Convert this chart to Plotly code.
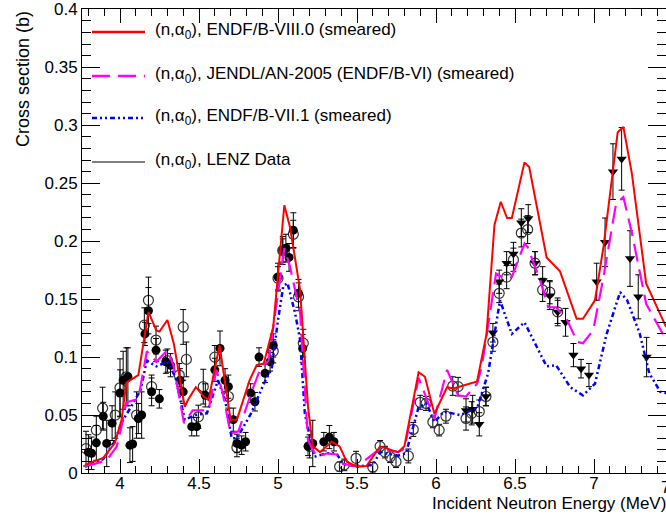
import plotly.graph_objects as go

# ---------------- data ----------------
red_x = [3.778, 3.894, 3.968, 4.01, 4.04, 4.105, 4.116, 4.18, 4.23, 4.25, 4.30, 4.34, 4.41, 4.43, 4.48, 4.53, 4.56,
         4.63, 4.65, 4.70, 4.74, 4.82, 4.865, 4.91, 4.97, 5.04, 5.076, 5.14, 5.19, 5.22, 5.266, 5.34, 5.39, 5.435,
         5.50, 5.56, 5.646, 5.76, 5.80, 5.89, 5.93, 5.99, 6.07, 6.11, 6.26, 6.32, 6.37, 6.41, 6.45, 6.48, 6.56, 6.59,
         6.70, 6.785, 6.89, 6.93, 7.006, 7.06, 7.15, 7.186, 7.24, 7.29, 7.33, 7.456]
red_y = [0.007, 0.013, 0.026, 0.046, 0.078, 0.083, 0.0845, 0.139, 0.123, 0.122, 0.132, 0.112, 0.057, 0.063, 0.074,
         0.066, 0.063, 0.110, 0.092, 0.046, 0.046, 0.080, 0.093, 0.0945, 0.126, 0.231, 0.212, 0.158, 0.057, 0.023,
         0.018, 0.027, 0.023, 0.0097, 0.0055, 0.006, 0.023, 0.018, 0.023, 0.087, 0.083, 0.051, 0.074, 0.073, 0.079,
         0.120, 0.214, 0.234, 0.220, 0.220, 0.268, 0.264, 0.186, 0.174, 0.133, 0.133, 0.149, 0.195, 0.294, 0.2985,
         0.258, 0.207, 0.1635, 0.126]

mag_x = [3.778, 3.916, 3.98, 4.01, 4.04, 4.116, 4.17, 4.23, 4.30, 4.34, 4.405, 4.46, 4.56, 4.61, 4.65, 4.70, 4.75,
         4.83, 4.886, 4.94, 5.04, 5.076, 5.14, 5.19, 5.245, 5.31, 5.37, 5.41, 5.50, 5.646, 5.76, 5.80, 5.89, 5.99,
         6.07, 6.14, 6.19, 6.26, 6.29, 6.34, 6.38, 6.43, 6.48, 6.56, 6.58, 6.66, 6.71, 6.76, 6.83, 6.894, 6.93,
         6.995, 7.06, 7.14, 7.186, 7.24, 7.33, 7.456]
mag_y = [0.0055, 0.011, 0.023, 0.040, 0.061, 0.064, 0.105, 0.096, 0.106, 0.092, 0.043, 0.054, 0.054, 0.089, 0.069,
         0.034, 0.036, 0.069, 0.089, 0.097, 0.194, 0.178, 0.138, 0.028, 0.014, 0.017, 0.016, 0.008, 0.0055, 0.021,
         0.018, 0.021, 0.082, 0.047, 0.089, 0.067, 0.066, 0.077, 0.092, 0.138, 0.172, 0.168, 0.169, 0.198, 0.195,
         0.166, 0.143, 0.143, 0.132, 0.113, 0.112, 0.123, 0.169, 0.2325, 0.238, 0.207, 0.146, 0.115]

blue_x = [3.778, 3.894, 3.96, 4.02, 4.07, 4.13, 4.17, 4.23, 4.30, 4.35, 4.41, 4.475, 4.55, 4.62, 4.665, 4.707, 4.74,
          4.83, 4.91, 4.96, 5.00, 5.033, 5.06, 5.108, 5.14, 5.17, 5.23, 5.31, 5.37, 5.41, 5.50, 5.60, 5.646, 5.76,
          5.81, 5.89, 5.94, 5.99, 6.05, 6.15, 6.26, 6.33, 6.405, 6.48, 6.56, 6.70, 6.76, 6.85, 6.93, 7.006, 7.08,
          7.165, 7.21, 7.29, 7.35, 7.42, 7.456]
blue_y = [0.0055, 0.012, 0.026, 0.046, 0.057, 0.0715, 0.097, 0.092, 0.096, 0.083, 0.046, 0.050, 0.0515, 0.080,
          0.063, 0.030, 0.030, 0.0515, 0.077, 0.090, 0.132, 0.161, 0.164, 0.138, 0.115, 0.051, 0.014, 0.017, 0.017,
          0.008, 0.0055, 0.007, 0.018, 0.015, 0.017, 0.057, 0.060, 0.044, 0.053, 0.050, 0.056, 0.086, 0.149, 0.120,
          0.130, 0.092, 0.093, 0.074, 0.067, 0.077, 0.120, 0.156, 0.149, 0.120, 0.086, 0.070, 0.069]

# LENZ data: filled circles
fill_x = [3.80, 3.82, 3.85, 3.894, 3.916, 3.95, 4.00, 4.02, 4.05, 4.063, 4.08, 4.116, 4.137, 4.158, 4.18, 4.20,
          4.228, 4.249, 4.29, 4.32, 4.38, 4.40, 4.454, 4.485, 4.54, 4.60, 4.633, 4.665, 4.686, 4.717, 4.74, 4.77,
          4.795, 4.827, 4.854, 4.88, 4.918, 4.95, 4.97, 5.00, 5.03, 5.05, 5.07, 5.097, 5.13, 5.156, 5.19, 5.22,
          5.29, 5.325, 5.354]
fill_y = [0.018, 0.017, 0.026, 0.049, 0.0255, 0.043, 0.069, 0.080, 0.083, 0.024, 0.025, 0.047, 0.050, 0.120, 0.140,
          0.070, 0.106, 0.064, 0.096, 0.093, 0.080, 0.070, 0.040, 0.040, 0.067, 0.089, 0.1075, 0.080, 0.0745, 0.046,
          0.0255, 0.024, 0.027, 0.069, 0.0615, 0.100, 0.086, 0.096, 0.110, 0.169, 0.192, 0.194, 0.186, 0.2095,
          0.155, 0.1075, 0.023, 0.0255, 0.027, 0.031, 0.027]
fill_e = [0.015, 0.014, 0.015, 0.012, 0.020, 0.015, 0.020, 0.025, 0.025, 0.015, 0.015, 0.013, 0.020, 0.010, 0.020,
          0.012, 0.010, 0.008, 0.010, 0.010, 0.010, 0.010, 0.008, 0.008, 0.010, 0.010, 0.015, 0.010, 0.010, 0.010,
          0.008, 0.008, 0.008, 0.008, 0.008, 0.008, 0.008, 0.008, 0.010, 0.012, 0.012, 0.012, 0.012, 0.015, 0.012,
          0.012, 0.008, 0.020, 0.008, 0.010, 0.008]

# LENZ data: open circles
open_x = [3.785, 3.85, 3.89, 3.97, 4.00, 4.04, 4.105, 4.154, 4.18, 4.20, 4.228, 4.30, 4.375, 4.40, 4.42, 4.496,
          4.527, 4.60, 4.686, 4.74, 4.97, 5.00, 5.03, 5.097, 5.13, 5.16, 5.20, 5.39, 5.42, 5.494, 5.60, 5.646, 5.677,
          5.71, 5.747, 5.825, 5.856, 5.90, 5.937, 5.98, 6.02, 6.063, 6.106, 6.14, 6.19, 6.226, 6.274, 6.316, 6.36,
          6.40, 6.447, 6.49, 6.54, 6.58, 6.627, 6.675, 6.72, 6.77]
open_y = [0.021, 0.037, 0.056, 0.050, 0.0735, 0.083, 0.050, 0.1275, 0.149, 0.0745, 0.1147, 0.097, 0.0845, 0.126,
          0.098, 0.0485, 0.0745, 0.100, 0.066, 0.022, 0.105, 0.168, 0.192, 0.206, 0.152, 0.112, 0.023, 0.0055, 0.007,
          0.0127, 0.005, 0.023, 0.018, 0.014, 0.0097, 0.0147, 0.0376, 0.061, 0.060, 0.044, 0.037, 0.049, 0.075,
          0.0745, 0.047, 0.0515, 0.053, 0.066, 0.113, 0.155, 0.169, 0.184, 0.207, 0.210, 0.181, 0.158, 0.156, 0.139]
open_e = [0.015, 0.012, 0.018, 0.020, 0.025, 0.025, 0.020, 0.015, 0.020, 0.010, 0.012, 0.010, 0.010, 0.015, 0.015,
          0.010, 0.015, 0.010, 0.010, 0.008, 0.010, 0.010, 0.010, 0.012, 0.012, 0.012, 0.010, 0.004, 0.005, 0.006,
          0.004, 0.005, 0.005, 0.005, 0.005, 0.006, 0.006, 0.006, 0.006, 0.005, 0.005, 0.006, 0.008, 0.008, 0.010,
          0.010, 0.010, 0.008, 0.008, 0.008, 0.010, 0.010, 0.012, 0.012, 0.010, 0.010, 0.010, 0.010]

# LENZ data: filled down-triangles
tri_x = [6.19, 6.232, 6.274, 6.316, 6.36, 6.40, 6.447, 6.49, 6.54, 6.584, 6.627, 6.675, 6.72, 6.77, 6.82, 6.87,
         6.918, 6.968, 7.017, 7.07, 7.12, 7.175, 7.228, 7.28, 7.333]
tri_y = [0.054, 0.055, 0.042, 0.066, 0.121, 0.165, 0.181, 0.189, 0.216, 0.2195, 0.181, 0.166, 0.153, 0.139, 0.130,
         0.1017, 0.090, 0.0845, 0.165, 0.199, 0.260, 0.271, 0.185, 0.152, 0.100]
tri_e = [0.010, 0.012, 0.010, 0.008, 0.008, 0.010, 0.010, 0.010, 0.012, 0.012, 0.010, 0.012, 0.012, 0.012, 0.012,
         0.010, 0.008, 0.010, 0.016, 0.021, 0.024, 0.027, 0.024, 0.019, 0.017]

x_tick_vals = [4, 4.5, 5, 5.5, 6, 6.5, 7]
x_tick_text = ["4", "4.5", "5", "5.5", "6", "6.5", "7"]
y_tick_vals = [0, 0.05, 0.1, 0.15, 0.2, 0.25, 0.3, 0.35, 0.4]
y_tick_text = ["0", "0.05", "0.1", "0.15", "0.2", "0.25", "0.3", "0.35", "0.4"]

legend_labels = [
    "(n,α<sub>0</sub>), ENDF/B-VIII.0 (smeared)",
    "(n,α<sub>0</sub>), JENDL/AN-2005 (ENDF/B-VI) (smeared)",
    "(n,α<sub>0</sub>), ENDF/B-VII.1 (smeared)",
    "(n,α<sub>0</sub>), LENZ Data",
]

# ---------------- layout geometry ----------------
W, H = 666, 515
L, R, T, B = 82, 0, 9, 42
X_RANGE = [3.7595, 7.4557]
Y_RANGE = [0, 0.4003]
FONT = "Liberation Sans, Arial, Helvetica, sans-serif"

pw = W - L - R
ph = H - T - B


def px2paper_x(px):
    return (px - L) / pw


def px2paper_y(py):
    return (H - B - py) / ph


RED = "#ff0000"
MAG = "#ff00ff"
BLUE = "#0000ff"

fig = go.Figure()

err_style = dict(type="data", thickness=1, width=3, color="black")

fig.add_trace(go.Scatter(x=open_x, y=open_y, mode="markers", showlegend=False,
                         marker=dict(symbol="circle-open", size=10, color="#333333", line=dict(width=1.2)),
                         error_y=dict(array=open_e, **err_style)))
fig.add_trace(go.Scatter(x=fill_x, y=fill_y, mode="markers", showlegend=False,
                         marker=dict(symbol="circle", size=9, color="black"),
                         error_y=dict(array=fill_e, **err_style)))
fig.add_trace(go.Scatter(x=tri_x, y=tri_y, mode="markers", showlegend=False,
                         marker=dict(symbol="triangle-down", size=9, color="black"),
                         error_y=dict(array=tri_e, **err_style)))

fig.add_trace(go.Scatter(x=blue_x, y=blue_y, mode="lines", showlegend=False,
                         line=dict(color=BLUE, width=2.5, dash="5px,3px,2px,3px,2px,3px")))
fig.add_trace(go.Scatter(x=mag_x, y=mag_y, mode="lines", showlegend=False,
                         line=dict(color=MAG, width=2.2, dash="18px,8px")))
fig.add_trace(go.Scatter(x=red_x, y=red_y, mode="lines", showlegend=False,
                         line=dict(color=RED, width=2)))

# ---------------- manual legend (ROOT style) ----------------
leg_y = [32, 76, 118, 162]
leg_styles = [
    dict(color=RED, width=2.5, dash="solid"),
    dict(color=MAG, width=2.5, dash="18px,8px"),
    dict(color=BLUE, width=2.5, dash="5px,3px,2px,3px,2px,3px"),
    dict(color="black", width=1, dash="solid"),
]
shapes = []
annotations = []
for lab, yy, st in zip(legend_labels, leg_y, leg_styles):
    shapes.append(dict(type="line", xref="paper", yref="paper",
                       x0=px2paper_x(92), x1=px2paper_x(145), y0=px2paper_y(yy), y1=px2paper_y(yy),
                       line=st))
    annotations.append(dict(text=lab, xref="paper", yref="paper", x=px2paper_x(153), y=px2paper_y(yy - 1),
                            xanchor="left", yanchor="middle", showarrow=False,
                            font=dict(family=FONT, size=17, color="black")))

# axis titles (ROOT style: right / top aligned)
annotations.append(dict(text="Incident Neutron Energy (MeV)", xref="paper", yref="paper",
                        x=px2paper_x(668), y=px2paper_y(503), xanchor="right", yanchor="middle",
                        showarrow=False, font=dict(family=FONT, size=17, color="black")))
annotations.append(dict(text="Cross section (b)", xref="paper", yref="paper", textangle=-90,
                        x=px2paper_x(23), y=px2paper_y(9), xanchor="center", yanchor="top",
                        showarrow=False, font=dict(family=FONT, size=18, color="black")))
# partially visible "7.5" tick label at the cropped right edge
annotations.append(dict(text="7.5", xref="paper", yref="paper",
                        x=(7.5 - X_RANGE[0]) / (X_RANGE[1] - X_RANGE[0]), y=px2paper_y(487),
                        xanchor="center", yanchor="middle", showarrow=False,
                        font=dict(family=FONT, size=17, color="black")))

fig.update_layout(
    width=W, height=H,
    margin=dict(l=L, r=R, t=T, b=B, pad=0),
    paper_bgcolor="white", plot_bgcolor="white",
    font=dict(family=FONT, size=17, color="black"),
    shapes=shapes, annotations=annotations,
    showlegend=False,
)
fig.update_xaxes(range=X_RANGE, showgrid=False, zeroline=False,
                 showline=True, linecolor="black", linewidth=1, mirror="ticks",
                 ticks="inside", ticklen=14, tickwidth=1, tickcolor="black",
                 tickvals=x_tick_vals, ticktext=x_tick_text, ticklabelstandoff=-5,
                 tickfont=dict(family=FONT, size=17, color="black"),
                 minor=dict(ticks="inside", ticklen=7, dtick=0.1, tick0=4, tickcolor="black", showgrid=False))
fig.update_yaxes(range=Y_RANGE, showgrid=False, zeroline=False,
                 showline=True, linecolor="black", linewidth=1, mirror="ticks",
                 ticks="inside", ticklen=18, tickwidth=1, tickcolor="black",
                 tickvals=y_tick_vals, ticktext=y_tick_text,
                 tickfont=dict(family=FONT, size=17, color="black"),
                 minor=dict(ticks="inside", ticklen=9, dtick=0.01, tick0=0, tickcolor="black", showgrid=False))

fig.write_html("out.html")
